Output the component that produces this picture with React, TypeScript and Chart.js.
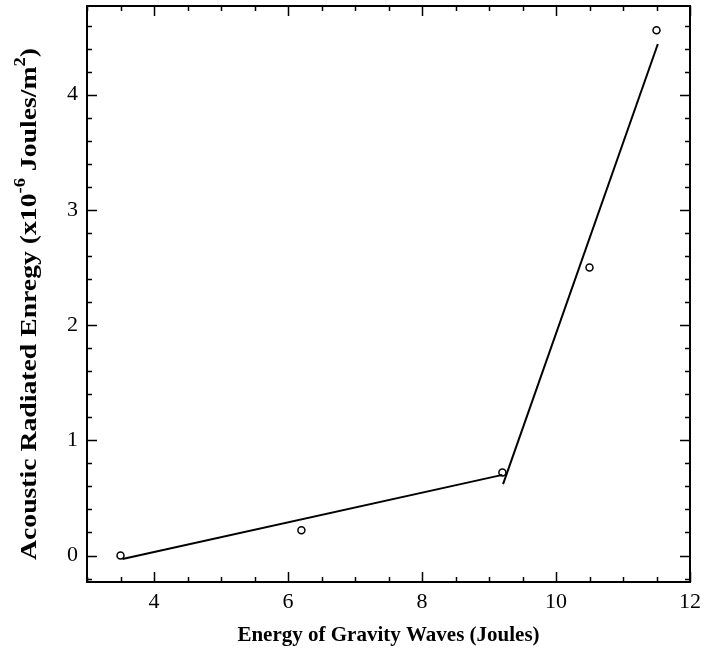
import { useEffect, useRef } from 'react';
import { Chart, registerables } from 'chart.js';

Chart.register(...registerables);

// ---- data ----
const measuredX = [3.5, 6.2, 9.2, 10.5, 11.5];
const measuredY = [0, 0.22, 0.72, 2.5, 4.56];
const lowFitX = [3.53, 9.2];
const lowFitY = [-0.03, 0.7];
const highFitX = [9.21, 11.52];
const highFitY = [0.62, 4.44];

const xTickValues = [4, 6, 8, 10, 12];
const yTickValues = [0, 1, 2, 3, 4];
const xMinorStep = 0.5;
const yMinorStep = 0.2;
const xMin = 3;
const xMax = 12;
const yMin = -0.23;
const yMax = 4.77;

const xTitle = 'Energy of Gravity Waves (Joules)';
const yTitleParts: { text: string; sup: boolean }[] = [
  { text: 'Acoustic Radiated Enregy (x10', sup: false },
  { text: '-6', sup: true },
  { text: ' Joules/m', sup: false },
  { text: '2', sup: true },
  { text: ')', sup: false },
];

const FAMILY = '"Liberation Serif", "DejaVu Serif", serif';

const toPoints = (xs: number[], ys: number[]) => xs.map((x, i) => ({ x, y: ys[i] }));

const frameTicksPlugin = {
  id: 'frameTicks',
  afterDraw(chart: any) {
    const { ctx, chartArea, scales } = chart;
    const { left, right, top, bottom } = chartArea;
    const xs = scales.x;
    const ys = scales.y;
    ctx.save();
    ctx.strokeStyle = '#000';
    ctx.lineWidth = 1.5;
    // x ticks (bottom and top, pointing inward)
    const nx = Math.round((xMax - xMin) / xMinorStep);
    for (let i = 0; i <= nx; i++) {
      const v = xMin + i * xMinorStep;
      const major = xTickValues.some((t) => Math.abs(t - v) < 1e-6);
      const len = major ? 10 : 5;
      const px = Math.round(xs.getPixelForValue(v)) + 0.5;
      ctx.beginPath();
      ctx.moveTo(px, bottom);
      ctx.lineTo(px, bottom - len);
      ctx.moveTo(px, top);
      ctx.lineTo(px, top + len);
      ctx.stroke();
    }
    // y ticks (left and right, pointing inward)
    const startK = Math.ceil(yMin / yMinorStep - 1e-9);
    const endK = Math.floor(yMax / yMinorStep + 1e-9);
    for (let k = startK; k <= endK; k++) {
      const v = k * yMinorStep;
      const major = yTickValues.some((t) => Math.abs(t - v) < 1e-6);
      const len = major ? 10 : 5;
      const py = Math.round(ys.getPixelForValue(v)) + 0.5;
      ctx.beginPath();
      ctx.moveTo(left, py);
      ctx.lineTo(left + len, py);
      ctx.moveTo(right, py);
      ctx.lineTo(right - len, py);
      ctx.stroke();
    }
    // frame
    ctx.lineWidth = 2;
    ctx.strokeRect(left, top, right - left, bottom - top);

    // y title with superscripts (stretched along its length like the scanned original)
    const mainFont = `bold 24px ${FAMILY}`;
    const supFont = `bold 16px ${FAMILY}`;
    let total = 0;
    for (const p of yTitleParts) {
      ctx.font = p.sup ? supFont : mainFont;
      total += ctx.measureText(p.text).width;
    }
    const targetLength = 512;
    const stretch = targetLength / total;
    const cy = 304;
    ctx.translate(36, cy);
    ctx.rotate(-Math.PI / 2);
    ctx.scale(stretch, 1);
    ctx.fillStyle = '#000';
    ctx.textBaseline = 'alphabetic';
    ctx.textAlign = 'left';
    let cx = -total / 2;
    for (const p of yTitleParts) {
      ctx.font = p.sup ? supFont : mainFont;
      ctx.fillText(p.text, cx, p.sup ? -11 : 0);
      cx += ctx.measureText(p.text).width;
    }
    ctx.restore();
  },
};

export default function App() {
  const ref = useRef<HTMLCanvasElement | null>(null);

  useEffect(() => {
    if (!ref.current) return;
    const chart = new Chart(ref.current, {
      type: 'scatter',
      data: {
        datasets: [
          {
            label: 'measured',
            data: toPoints(measuredX, measuredY),
            showLine: false,
            pointRadius: 3.5,
            pointBorderWidth: 1.5,
            pointBorderColor: '#000',
            pointBackgroundColor: 'rgba(0,0,0,0)',
            pointStyle: 'circle',
          },
          {
            label: 'low fit',
            data: toPoints(lowFitX, lowFitY),
            showLine: true,
            borderColor: '#000',
            borderWidth: 2,
            pointRadius: 0,
          },
          {
            label: 'high fit',
            data: toPoints(highFitX, highFitY),
            showLine: true,
            borderColor: '#000',
            borderWidth: 2,
            pointRadius: 0,
          },
        ],
      },
      options: {
        responsive: false,
        animation: false,
        layout: { padding: { left: 0, top: 6, right: 17, bottom: 0 } },
        plugins: { legend: { display: false }, tooltip: { enabled: false } },
        scales: {
          x: {
            type: 'linear',
            min: xMin,
            max: xMax,
            afterBuildTicks: (s: any) => {
              s.ticks = xTickValues.map((v) => ({ value: v }));
            },
            afterFit: (s: any) => {
              s.height = 71;
              s.paddingLeft = 0;
              s.paddingRight = 0;
            },
            grid: { display: false, drawTicks: false },
            border: { display: false },
            ticks: {
              color: '#000',
              font: { family: FAMILY, size: 22 },
              padding: 7,
              maxRotation: 0,
              autoSkip: false,
            },
            title: {
              display: true,
              text: xTitle,
              color: '#000',
              font: { family: FAMILY, size: 21, weight: 'bold' },
              padding: { top: 0, bottom: 5 },
            },
          },
          y: {
            type: 'linear',
            min: yMin,
            max: yMax,
            afterBuildTicks: (s: any) => {
              s.ticks = yTickValues.map((v) => ({ value: v }));
            },
            afterFit: (s: any) => {
              s.width = 87;
              s.paddingTop = 0;
              s.paddingBottom = 0;
            },
            grid: { display: false, drawTicks: false },
            border: { display: false },
            ticks: {
              color: '#000',
              font: { family: FAMILY, size: 22 },
              padding: 9,
              autoSkip: false,
            },
            title: { display: false },
          },
        },
      },
      plugins: [frameTicksPlugin],
    } as any);
    return () => chart.destroy();
  }, []);

  return (
    <div style={{ position: 'absolute', left: 0, top: 0, width: 707, height: 653, background: '#fff' }}>
      <canvas ref={ref} width={707} height={653} style={{ display: 'block' }} />
    </div>
  );
}
